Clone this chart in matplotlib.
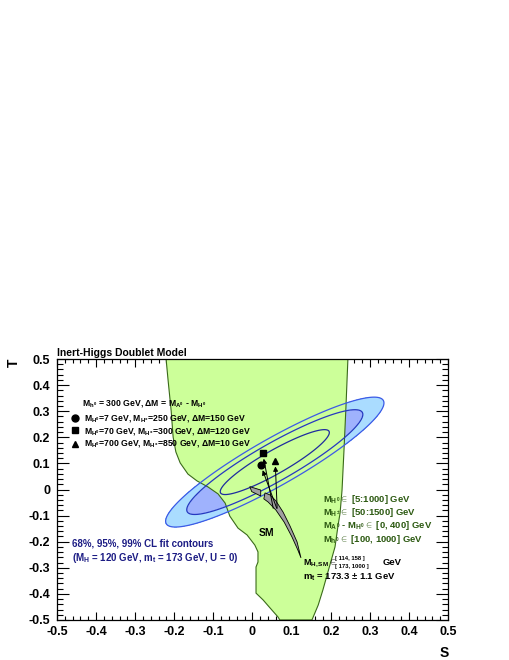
import numpy as np
import matplotlib
matplotlib.use("Agg")
import matplotlib.pyplot as plt
from matplotlib.patches import Polygon

plt.rcParams['font.family'] = ['Liberation Sans', 'DejaVu Sans']
plt.rcParams['font.weight'] = 'bold'
plt.rcParams['axes.unicode_minus'] = False
plt.rcParams['mathtext.fontset'] = 'custom'
plt.rcParams['mathtext.rm'] = 'Liberation Sans:bold'
plt.rcParams['mathtext.it'] = 'Liberation Sans:bold'
plt.rcParams['mathtext.bf'] = 'Liberation Sans:bold'
plt.rcParams['mathtext.sf'] = 'Liberation Sans:bold'

# ---------------- data ----------------
# electroweak fit result (S, T) with errors and correlation
fit_S, fit_T = 0.057, 0.105
sig_S, sig_T = 0.092, 0.082
rho_ST = 0.91
cl_levels = [2.30, 5.99, 9.21]   # 68%, 95%, 99% CL (2 dof)

# Inert-Higgs allowed region boundary
ihdm_left_S = [-0.221, -0.216, -0.208, -0.203, -0.196, -0.185, -0.165, -0.142, -0.114, -0.088,
               -0.070, -0.058, -0.037, -0.014, 0.006, 0.014, 0.014, 0.009, 0.009, 0.027,
               0.045, 0.065, 0.070]
ihdm_left_T = [0.5, 0.420, 0.301, 0.201, 0.144, 0.102, 0.059, 0.033, 0.010, -0.017,
               -0.052, -0.102, -0.148, -0.174, -0.213, -0.239, -0.278, -0.297, -0.397, -0.423,
               -0.454, -0.488, -0.5]
ihdm_right_S = [0.152, 0.168, 0.180, 0.198, 0.211, 0.219, 0.224, 0.229, 0.234, 0.239, 0.244]
ihdm_right_T = [-0.5, -0.443, -0.385, -0.289, -0.220, -0.136, -0.090, -0.002, 0.151, 0.316, 0.5]

# SM prediction (M_H in [114,158])
sm_low_S = [-0.007, 0.021, 0.021, -0.002]
sm_low_T = [0.011, -0.002, -0.025, -0.008]
# SM prediction (M_H in [173,1000])
sm_high_S = [0.032, 0.045, 0.060, 0.078, 0.096, 0.114, 0.124,
             0.116, 0.101, 0.081, 0.060, 0.040, 0.029]
sm_high_T = [-0.013, -0.021, -0.044, -0.086, -0.140, -0.201, -0.262,
             -0.232, -0.182, -0.125, -0.079, -0.048, -0.036]

# benchmark points (circle, square, triangle) and arrow origins
bench_S = [0.021, 0.026, 0.058]
bench_T = [0.094, 0.139, 0.110]
bench_origin_S = [0.062, 0.053, 0.063]
bench_origin_T = [-0.072, -0.072, -0.072]
bench_markers = ['o', 's', '^']

tick_vals = [-0.5, -0.4, -0.3, -0.2, -0.1, 0.0, 0.1, 0.2, 0.3, 0.4, 0.5]
tick_labels = ['-0.5', '-0.4', '-0.3', '-0.2', '-0.1', '0', '0.1', '0.2', '0.3', '0.4', '0.5']

# ---------------- figure ----------------
fig = plt.figure(figsize=(5.1, 6.6), dpi=100)
ax = fig.add_axes([57/510, 1-620/660, (448-57)/510, (620-359)/660])
ax.set_xlim(-0.5, 0.5)
ax.set_ylim(-0.5, 0.5)

# fit contours
sg = np.linspace(-0.5, 0.5, 500)
tg = np.linspace(-0.5, 0.5, 500)
SS, TT = np.meshgrid(sg, tg)
dS = (SS - fit_S) / sig_S
dT = (TT - fit_T) / sig_T
chi2 = (dS**2 + dT**2 - 2*rho_ST*dS*dT) / (1 - rho_ST**2)
ax.contourf(SS, TT, chi2, levels=[0, cl_levels[1], cl_levels[2]],
            colors=['#9fb2fd', '#aadcff'], zorder=1)

# allowed region
poly_S = ihdm_left_S + ihdm_right_S
poly_T = ihdm_left_T + ihdm_right_T
ax.add_patch(Polygon(np.column_stack([poly_S, poly_T]), closed=True,
                     facecolor='#ccff99', edgecolor='#3a6a1a', lw=0.8, zorder=2))

ax.contour(SS, TT, chi2, levels=cl_levels,
           colors=['#1e2c9e', '#2638c0', '#3c5ae6'], linewidths=0.9, zorder=3)

# SM regions
ax.add_patch(Polygon(np.column_stack([sm_low_S, sm_low_T]), closed=True,
                     facecolor='#a0a0a0', edgecolor='k', lw=0.6, zorder=4))
ax.add_patch(Polygon(np.column_stack([sm_high_S, sm_high_T]), closed=True,
                     facecolor='#a0a0a0', edgecolor='k', lw=0.6, zorder=4))

# benchmark arrows and markers
for s, t, s0, t0, m in zip(bench_S, bench_T, bench_origin_S, bench_origin_T, bench_markers):
    ax.annotate('', xy=(s, t), xytext=(s0, t0),
                arrowprops=dict(arrowstyle='-|>', color='k', lw=0.7,
                                mutation_scale=7, shrinkA=0, shrinkB=4),
                zorder=5)
    ax.plot([s], [t], marker=m, color='k', ms=4.8, ls='none', zorder=6)

# legend text block
fs = 6.2
ax.text(-0.436, 0.320, r'$M_{h^{0}}$ = 300 GeV, $\Delta$M = $M_{A^{0}}$ - $M_{H^{0}}$',
        fontsize=fs, va='baseline', zorder=7)
leg_T_text = [0.266, 0.215, 0.167]
leg_T_mark = [0.275, 0.228, 0.173]
leg_lines = [r'$M_{H^{0}}$=7 GeV, $M_{H^{\pm}}$=250 GeV, $\Delta$M=150 GeV',
             r'$M_{H^{0}}$=70 GeV, $M_{H^{\pm}}$=300 GeV, $\Delta$M=120 GeV',
             r'$M_{H^{0}}$=700 GeV, $M_{H^{\pm}}$=850 GeV, $\Delta$M=10 GeV']
for tt, tm, line, m in zip(leg_T_text, leg_T_mark, leg_lines, bench_markers):
    ax.plot([-0.454], [tm], marker=m, color='k', ms=5, ls='none', zorder=7)
    ax.text(-0.431, tt, line, fontsize=fs, va='baseline', zorder=7)

# scan ranges (green)
gcol = '#2d5a12'
green_lines = [r'$M_{H^{0}}\in$ [5:1000] GeV',
               r'$M_{H^{\pm}}\in$ [50:1500] GeV',
               r'$M_{A^{0}}$ - $M_{H^{0}}\in$ [0, 400] GeV',
               r'$M_{h^{0}}\in$ [100, 1000] GeV']
green_T = [-0.047, -0.099, -0.146, -0.200]
for tt, line in zip(green_T, green_lines):
    ax.text(0.180, tt, line, fontsize=6.8, color=gcol, va='baseline', zorder=7)

# SM annotations
ax.text(0.037, -0.167, 'SM', fontsize=7.5, ha='center', va='center', zorder=7)
ax.text(0.129, -0.289, r'$M_{H,SM}\in$', fontsize=6.5, va='baseline', zorder=7)
ax.text(0.210, -0.271, '[ 114, 158 ]', fontsize=4.2, va='baseline', zorder=7)
ax.text(0.210, -0.302, '[ 173, 1000 ]', fontsize=4.2, va='baseline', zorder=7)
ax.text(0.332, -0.289, 'GeV', fontsize=6.8, va='baseline', zorder=7)
ax.text(0.129, -0.343, r'$m_{t}$' + ' = 173.3 \u00b1 1.1 GeV', fontsize=6.8,
        va='baseline', zorder=7)

# fit description (navy)
ncol = '#1c1c84'
ax.text(-0.462, -0.219, '68%, 95%, 99% CL fit contours', fontsize=7, color=ncol,
        va='baseline', zorder=7)
ax.text(-0.462, -0.274, r'($M_{H}$ = 120 GeV, $m_{t}$ = 173 GeV, U = 0)', fontsize=7,
        color=ncol, va='baseline', zorder=7)

# title and axis labels
ax.text(0.0, 1.013, 'Inert-Higgs Doublet Model', transform=ax.transAxes,
        fontsize=7.5, va='baseline', ha='left')
fig.text(13.5/510, 1-363/660, 'T', rotation=90, fontsize=10, ha='center', va='center')
fig.text(444/510, 1-653/660, 'S', fontsize=10, ha='center', va='center')

# ticks
ax.set_xticks(tick_vals)
ax.set_xticklabels(tick_labels)
ax.set_yticks(tick_vals)
ax.set_yticklabels(tick_labels)
ax.set_xticks(np.arange(-0.5, 0.5001, 0.02), minor=True)
ax.set_yticks(np.arange(-0.5, 0.5001, 0.02), minor=True)
ax.tick_params(axis='x', which='major', direction='in', top=True, bottom=True,
               length=5.6, width=0.8, labelsize=9, pad=4)
ax.tick_params(axis='x', which='minor', direction='in', top=True, bottom=True,
               length=2.8, width=0.8)
ax.tick_params(axis='y', which='major', direction='in', left=True, right=True,
               length=8.4, width=0.8, labelsize=9, pad=5)
ax.tick_params(axis='y', which='minor', direction='in', left=True, right=True,
               length=4.2, width=0.8)
for sp in ax.spines.values():
    sp.set_linewidth(0.9)
    sp.set_zorder(10)

fig.savefig('out.png', dpi=100)
